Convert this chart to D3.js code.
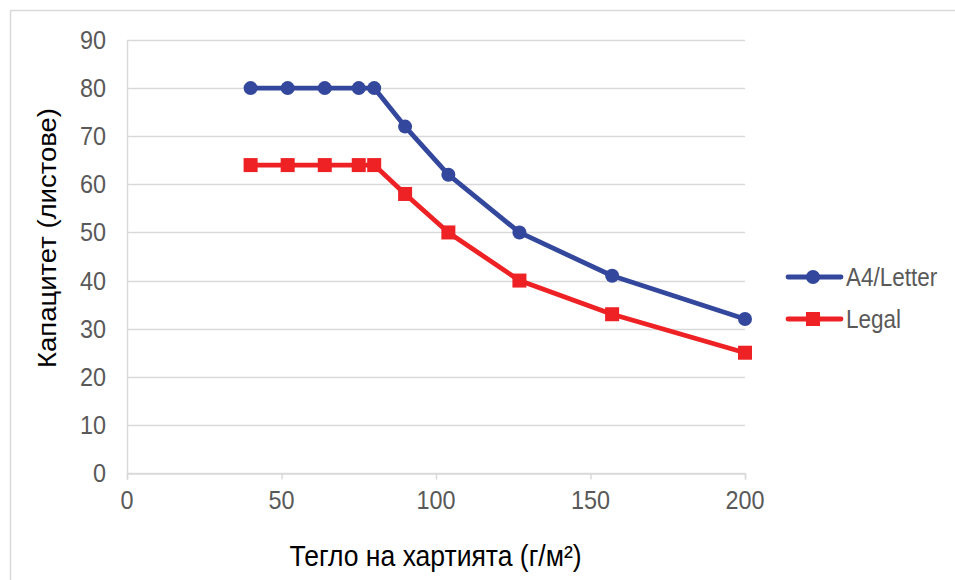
<!DOCTYPE html>
<html><head><meta charset="utf-8">
<script src="https://cdn.jsdelivr.net/npm/d3@7"></script>
<style>
html,body{margin:0;padding:0;background:#fff;}
</style></head>
<body>
<svg id="chart" width="955" height="580"></svg>
<script>
const weights = [40, 52, 64, 75, 80, 90, 104, 127, 157, 200];
const a4Letter = [80, 80, 80, 80, 80, 72, 62, 50, 41, 32];
const legal = [64, 64, 64, 64, 64, 58, 50, 40, 33, 25];
const seriesNames = ["A4/Letter", "Legal"];
const xTicks = [0, 50, 100, 150, 200];
const yTicks = [0, 10, 20, 30, 40, 50, 60, 70, 80, 90];
const xTitle = "Тегло на хартията (г/м²)";
const yTitle = "Капацитет (листове)";

const svg = d3.select("#chart");
const grey = "#d9d9d9", labelCol = "#595959";
const font = "'Liberation Sans', Arial, sans-serif";
const blue = "#33479d", red = "#ee2125";
const sx = 0.9;

// outer border
svg.append("rect").attr("x", 10.5).attr("y", 10.5).attr("width", 960).attr("height", 600)
  .attr("fill", "none").attr("stroke", grey).attr("stroke-width", 1.5);

const x = d3.scaleLinear().domain([0, 200]).range([127, 745]);
const y = d3.scaleLinear().domain([0, 90]).range([473, 40]);

// gridlines
svg.append("g").selectAll("line").data(yTicks).join("line")
  .attr("x1", x(0)).attr("x2", x(200))
  .attr("y1", d => Math.round(y(d)) + 0.5).attr("y2", d => Math.round(y(d)) + 0.5)
  .attr("stroke", grey).attr("stroke-width", 1.5);

// y axis line
svg.append("line").attr("x1", x(0) + 0.5).attr("x2", x(0) + 0.5)
  .attr("y1", y(90)).attr("y2", y(0)).attr("stroke", grey).attr("stroke-width", 1.5);

// x axis (ticks via d3 axis, labels drawn with horizontal compression)
const xAxis = svg.append("g").attr("transform", `translate(0,${Math.round(y(0)) + 0.5})`)
  .call(d3.axisBottom(x).tickValues(xTicks).tickSize(6).tickFormat(""));
xAxis.select(".domain").attr("stroke", grey).attr("stroke-width", 1.5);
xAxis.selectAll(".tick line").attr("stroke", grey).attr("stroke-width", 1.5);

svg.append("g").selectAll("text").data(xTicks).join("text")
  .attr("transform", d => `translate(${x(d)},509) scale(${sx},1)`)
  .attr("text-anchor", "middle").attr("fill", labelCol)
  .style("font-family", font).style("font-size", "26px").text(d => d3.format("d")(d));

// y labels
svg.append("g").selectAll("text").data(yTicks).join("text")
  .attr("transform", d => `translate(106,${y(d) + 9}) scale(${sx},1)`)
  .attr("text-anchor", "end").attr("fill", labelCol)
  .style("font-family", font).style("font-size", "26px").text(d => d3.format("d")(d));

// titles
svg.append("text").attr("transform", `translate(435.5,566) scale(0.915,1)`).attr("text-anchor", "middle")
  .style("font-family", font).style("font-size", "29px").attr("fill", "#000").text(xTitle);
svg.append("text").attr("transform", "translate(56,238) rotate(-90) scale(1.1,1)").attr("text-anchor", "middle")
  .style("font-family", font).style("font-size", "25px").attr("fill", "#000").text(yTitle);

const line = d3.line().x((d, i) => x(weights[i])).y(d => y(d));
const series = [
  {name: seriesNames[0], values: a4Letter, color: blue, shape: "circle"},
  {name: seriesNames[1], values: legal, color: red, shape: "square"}
];

series.forEach(s => {
  svg.append("path").datum(s.values).attr("d", line).attr("fill", "none")
    .attr("stroke", s.color).attr("stroke-width", 4.8).attr("stroke-linejoin", "round");
  const g = svg.append("g");
  if (s.shape === "circle") {
    g.selectAll("circle").data(s.values).join("circle")
      .attr("cx", (d, i) => x(weights[i])).attr("cy", d => y(d)).attr("r", 7).attr("fill", s.color);
  } else {
    g.selectAll("rect").data(s.values).join("rect")
      .attr("x", (d, i) => x(weights[i]) - 7).attr("y", d => y(d) - 7)
      .attr("width", 14).attr("height", 14).attr("fill", s.color);
  }
});

// legend
const leg = svg.append("g");
series.forEach((s, i) => {
  const ly = 277 + i * 42;
  leg.append("line").attr("x1", 788).attr("x2", 841).attr("y1", ly).attr("y2", ly)
    .attr("stroke", s.color).attr("stroke-width", 4.8).attr("stroke-linecap", "round");
  if (s.shape === "circle") leg.append("circle").attr("cx", 813).attr("cy", ly).attr("r", 7).attr("fill", s.color);
  else leg.append("rect").attr("x", 806).attr("y", ly - 7).attr("width", 14).attr("height", 14).attr("fill", s.color);
  leg.append("text").attr("transform", `translate(846,${ly + 9}) scale(${sx},1)`)
    .style("font-family", font).style("font-size", "25px")
    .attr("fill", labelCol).text(s.name);
});
</script>
</body></html>
